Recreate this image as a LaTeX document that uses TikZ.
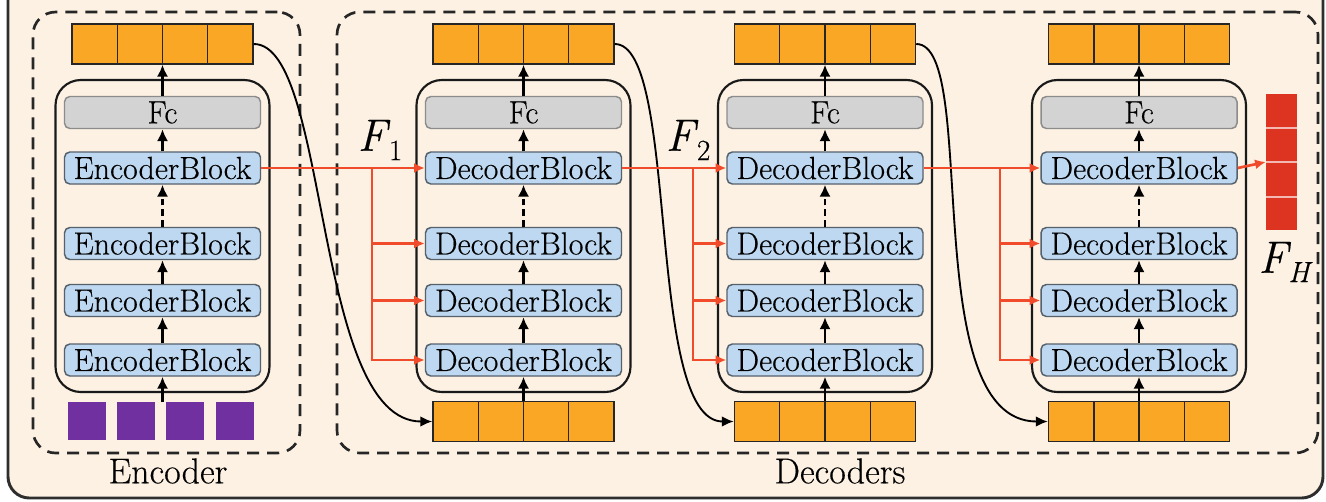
\documentclass[tikz,border=0pt]{standalone}
\usepackage{fontspec}
\newfontfamily\tms{Latin Modern Roman}[FakeBold=0.35]
\usetikzlibrary{arrows.meta}
\newlength\pxu
\setlength\pxu{0.75pt}
\definecolor{bgc}{HTML}{FCF1E2}
\definecolor{orng}{HTML}{FBA726}
\definecolor{blk}{HTML}{BDD8F0}
\definecolor{blkb}{HTML}{56616C}
\definecolor{fcg}{HTML}{D3D3D3}
\definecolor{fcb}{HTML}{8C8C8C}
\definecolor{purp}{HTML}{7030A0}
\definecolor{redbar}{HTML}{DC3421}
\definecolor{redln}{HTML}{F04C2C}
\definecolor{framec}{HTML}{2E2E2E}
\tikzset{
  blockbox/.style={draw=blkb, line width=1.1pt, fill=blk, rounded corners=4pt,
    minimum width=196*\pxu, minimum height=32*\pxu, inner sep=0pt,
    font=\tms\fontsize{24}{26}\selectfont},
  fcbox/.style={blockbox, draw=fcb, fill=fcg},
  barbox/.style={draw=black!85, line width=1.1pt, fill=orng,
    minimum width=181*\pxu, minimum height=40*\pxu, inner sep=0pt},
  divline/.style={draw=black!85, line width=1.1pt},
  container/.style={draw=black!90, line width=1.6pt, rounded corners=19pt,
    minimum width=214*\pxu, minimum height=312*\pxu, inner sep=0pt},
  groupbox/.style={draw=black!85, line width=2pt, dash pattern=on 9pt off 6pt,
    rounded corners=17pt, inner sep=0pt},
  sq/.style={fill=purp, minimum width=38*\pxu, minimum height=38*\pxu, inner sep=0pt},
  varrow/.style={draw=black, line width=2.1pt, -{Latex[length=9pt,width=8.5pt]}},
  dvarrow/.style={varrow, dash pattern=on 5pt off 3pt},
  curvearrow/.style={draw=black, line width=1.4pt, -{Latex[length=9pt,width=8pt]}},
  redarrow/.style={draw=redln, line width=2pt, -{Latex[length=8pt,width=7.5pt]}},
  grouplabel/.style={font=\tms\fontsize{27}{29}\selectfont, inner sep=0pt},
  flabel/.style={font=\tms\fontsize{34}{36}\selectfont, inner sep=0pt},
  x=0.75pt, y=-0.75pt
}
\newcommand\obar[3]{%
  \node[barbox] (#1) at (#2,#3) {};
  \foreach \k in {-1,0,1}
    \draw[divline] ([xshift=\k*45.25*\pxu]#1.north) -- ([xshift=\k*45.25*\pxu]#1.south);
}
\begin{document}
\begin{tikzpicture}
\useasboundingbox (0,0) rectangle (1326,501);
\fill[white] (0,0) rectangle (1326,501);
% outer frame
\draw[framec, line width=2.2pt, fill=bgc, rounded corners=16pt] (8,-40) rectangle (1323,498);

% group boxes
\node[groupbox, minimum width=267*\pxu, minimum height=441*\pxu] (encgrp) at (166.5,232.5) {};
\node[groupbox, minimum width=981*\pxu, minimum height=441*\pxu] (decgrp) at (827.5,232.5) {};
\node[grouplabel] (enclab) at (168,471) {Encoder};
\node[grouplabel] (declab) at (840,471) {Decoders};

% ---------------- Encoder ----------------
\node[container] (ecnt) at (162.5,236) {};
\obar{etop}{162.5}{44}
\node[fcbox] (efc) at (162.5,112.5) {Fc};
\node[blockbox] (eb1) at (162.5,168) {EncoderBlock};
\node[blockbox] (eb2) at (162.5,243.5) {EncoderBlock};
\node[blockbox] (eb3) at (162.5,300.5) {EncoderBlock};
\node[blockbox] (eb4) at (162.5,360) {EncoderBlock};
\node[sq] (p1) at (87,421) {};
\node[sq] (p2) at (136,421) {};
\node[sq] (p3) at (185,421) {};
\node[sq] (p4) at (235,421) {};
\coordinate (ein) at (162.5,402);
\draw[varrow] (efc.north) -- (etop.south);
\draw[varrow] (eb1.north) -- (efc.south);
\draw[dvarrow] (eb2.north) -- (eb1.south);
\draw[varrow] (eb3.north) -- (eb2.south);
\draw[varrow] (eb4.north) -- (eb3.south);
\draw[varrow] (ein) -- (eb4.south);

% ---------------- Decoders ----------------
\foreach \n/\cx in {1/523.5, 2/825, 3/1139} {
  \node[container] (d\n cnt) at (\cx,236) {};
  \obar{d\n top}{\cx}{44}
  \obar{d\n bot}{\cx}{421.5}
  \node[fcbox] (d\n fc) at (\cx,112.5) {Fc};
  \node[blockbox] (d\n b1) at (\cx,168) {DecoderBlock};
  \node[blockbox] (d\n b2) at (\cx,243.5) {DecoderBlock};
  \node[blockbox] (d\n b3) at (\cx,300.5) {DecoderBlock};
  \node[blockbox] (d\n b4) at (\cx,360) {DecoderBlock};
  \draw[varrow] (d\n fc.north) -- (d\n top.south);
  \draw[varrow] (d\n b1.north) -- (d\n fc.south);
  \draw[dvarrow] (d\n b2.north) -- (d\n b1.south);
  \draw[varrow] (d\n b3.north) -- (d\n b2.south);
  \draw[varrow] (d\n b4.north) -- (d\n b3.south);
  \draw[varrow] (d\n bot.north) -- (d\n b4.south);
}

% output feature bar F_H
\node[fill=redbar, minimum width=31*\pxu, minimum height=136*\pxu, inner sep=0pt] (rbar) at (1281.5,162) {};
\foreach \yy in {128,162,197}
  \draw[white!65!redbar, line width=0.8pt] (1266,\yy) -- (1297,\yy);

% curved skip connectors
\draw[curvearrow] (etop.east) .. controls (330,44) and (313,421.5) .. (d1bot.west);
\draw[curvearrow] (d1top.east) .. controls (680,44) and (645,421.5) .. (d2bot.west);
\draw[curvearrow] (d2top.east) .. controls (980,44) and (916,421.5) .. (d3bot.west);

% red feature connectors
\coordinate (br1) at (372,168);
\coordinate (br2) at (693,168);
\coordinate (br3) at (1000,168);
\draw[redarrow] (eb1.east) -- (d1b1.west);
\foreach \k in {2,3,4} \draw[redarrow] (br1) |- (d1b\k.west);
\draw[redarrow] (d1b1.east) -- (d2b1.west);
\foreach \k in {2,3,4} \draw[redarrow] (br2) |- (d2b\k.west);
\draw[redarrow] (d2b1.east) -- (d3b1.west);
\foreach \k in {2,3,4} \draw[redarrow] (br3) |- (d3b\k.west);
\draw[redarrow] (d3b1.east) -- (rbar.west);

% labels
\node[flabel] (f1) at (380,140) {\textit{F}\kern-1pt\raisebox{-7pt}{\fontsize{22}{22}\selectfont 1}};
\node[flabel] (f2) at (688,140) {\textit{F}\kern-1pt\raisebox{-7pt}{\fontsize{22}{22}\selectfont 2}};
\node[flabel] (fh) at (1284,262) {\textit{F}\kern-2pt\raisebox{-7pt}{\fontsize{22}{22}\selectfont\itshape H}};
\end{tikzpicture}
\end{document}
